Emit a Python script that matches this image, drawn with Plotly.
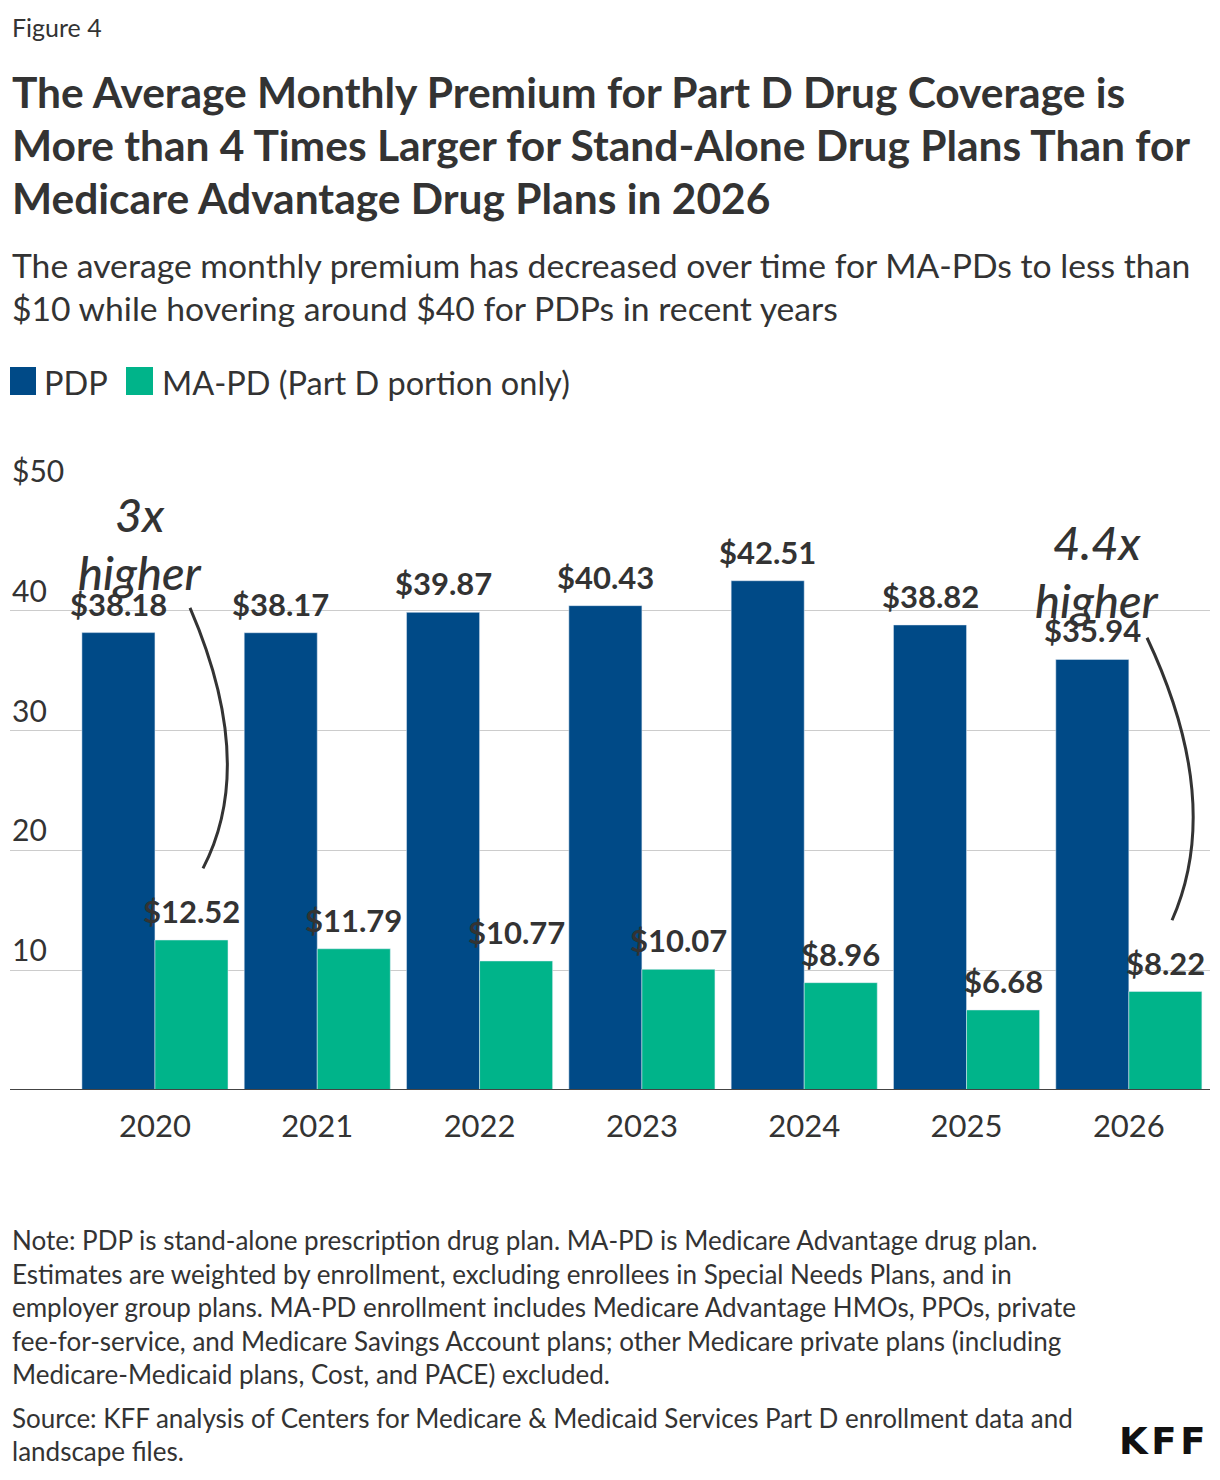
import plotly.graph_objects as go

years = ["2020", "2021", "2022", "2023", "2024", "2025", "2026"]
pdp = [38.18, 38.17, 39.87, 40.43, 42.51, 38.82, 35.94]
mapd = [12.52, 11.79, 10.77, 10.07, 8.96, 6.68, 8.22]
y_ticks = [10, 20, 30, 40, 50]
y_tick_text = ["10", "20", "30", "40", "$50"]

PDP_COLOR = "#004a87"
MAPD_COLOR = "#00b48a"
TXT = "#333333"
FONT = "Lato"

W, H = 1220, 1480
L, R, T, B = 10, 10, 491, 390
PW, PH = W - L - R, H - T - B

def px(x):
    return (x - L) / PW

def py(y):
    return (H - B - y) / PH

xs = list(range(len(years)))

fig = go.Figure()
fig.add_trace(go.Bar(x=xs, y=pdp, name="PDP", marker_color=PDP_COLOR, showlegend=False))
fig.add_trace(go.Bar(x=xs, y=mapd, name="MA-PD (Part D portion only)", marker_color=MAPD_COLOR, showlegend=False))

ann = []
# value labels
for i, v in enumerate(pdp):
    ann.append(dict(x=i - 0.225, y=v, xref="x", yref="y", text=f"${v:.2f}", showarrow=False,
                    yanchor="middle", yshift=29, font=dict(family=FONT, size=31, color=TXT, weight=700)))
for i, v in enumerate(mapd):
    ann.append(dict(x=i + 0.225, y=v, xref="x", yref="y", text=f"${v:.2f}", showarrow=False,
                    yanchor="middle", yshift=29, font=dict(family=FONT, size=31, color=TXT, weight=700)))
# y tick labels above gridlines
for v, t in zip(y_ticks, y_tick_text):
    ann.append(dict(x=0, y=v, xref="paper", yref="y", text=t, showarrow=False, xanchor="left",
                    yanchor="middle", yshift=21, font=dict(family=FONT, size=30, color=TXT)))

def text(x, y, s, size, bold=False, color=TXT, italic=False, xanchor="left", family=FONT):
    ann.append(dict(x=px(x), y=py(y), xref="paper", yref="paper", text=s, showarrow=False,
                    xanchor=xanchor, yanchor="middle",
                    font=dict(family=family, size=size, color=color, weight=700 if bold else 400,
                              style="italic" if italic else "normal")))

text(10, 27, "Figure 4", 25)
for yy, s in zip([91, 144, 197], [
        "The Average Monthly Premium for Part D Drug Coverage is",
        "More than 4 Times Larger for Stand-Alone Drug Plans Than for",
        "Medicare Advantage Drug Plans in 2026"]):
    text(10, yy, s, 42.5, bold=True)
for yy, s in zip([265, 308], [
        "The average monthly premium has decreased over time for MA-PDs to less than",
        "$10 while hovering around $40 for PDPs in recent years"]):
    text(10, yy, s, 33.7)
text(42, 382, "PDP", 32.5)
text(160, 382, "MA-PD (Part D portion only)", 32.5)

notes = [
    "Note: PDP is stand-alone prescription drug plan. MA-PD is Medicare Advantage drug plan.",
    "Estimates are weighted by enrollment, excluding enrollees in Special Needs Plans, and in",
    "employer group plans. MA-PD enrollment includes Medicare Advantage HMOs, PPOs, private",
    "fee-for-service, and Medicare Savings Account plans; other Medicare private plans (including",
    "Medicare-Medicaid plans, Cost, and PACE) excluded.",
]
for k, s in enumerate(notes):
    text(10, 1240 + k * 33.6, s, 26)
text(10, 1418, "Source: KFF analysis of Centers for Medicare &amp; Medicaid Services Part D enrollment data and", 26)
text(10, 1451, "landscape files.", 26)
text(1208, 1441, "K\u200aF\u200aF", 37, bold=True, color="#111111", xanchor="right", family="DejaVu Sans")

# callout texts
for x0, lines, ys in [(140, ["3x", "higher"], [514, 572]), (1097, ["4.4x", "higher"], [542, 600])]:
    for s, yy in zip(lines, ys):
        ann.append(dict(x=px(x0), y=py(yy), xref="paper", yref="paper", text=s, showarrow=False,
                        xanchor="center", yanchor="middle",
                        font=dict(family=FONT, size=47, color=TXT, style="italic", weight=500)))

shapes = [
    dict(type="rect", xref="paper", yref="paper", x0=px(10), x1=px(36), y0=py(367), y1=py(395),
         fillcolor=PDP_COLOR, line_width=0),
    dict(type="rect", xref="paper", yref="paper", x0=px(126), x1=px(153), y0=py(367), y1=py(395),
         fillcolor=MAPD_COLOR, line_width=0),
    dict(type="path", xref="x", yref="y", path="M 0.216,40.25 Q 0.632,27.2 0.296,18.5",
         line=dict(color=TXT, width=3)),
    dict(type="path", xref="x", yref="y", path="M 6.112,37.75 Q 6.589,24.04 6.266,14.17",
         line=dict(color=TXT, width=3)),
    dict(type="line", xref="paper", yref="y", x0=0, x1=1, y0=0, y1=0, line=dict(color="#444444", width=2)),
]

fig.update_layout(
    width=W, height=H, margin=dict(l=L, r=R, t=T, b=B),
    paper_bgcolor="white", plot_bgcolor="white",
    barmode="group", bargap=0.1, bargroupgap=0,
    annotations=ann, shapes=shapes,
    xaxis=dict(range=[-0.893, 6.5], tickvals=xs, ticktext=years, showgrid=False, zeroline=False,
               showline=False, ticks="", tickfont=dict(family=FONT, size=31, color=TXT), ticklabelstandoff=15),
    yaxis=dict(range=[0, 50], tickvals=y_ticks, showticklabels=False, showgrid=True,
               gridcolor="#cccccc", gridwidth=1, zeroline=False, showline=False, ticks=""),
)

fig.write_html("out.html")
